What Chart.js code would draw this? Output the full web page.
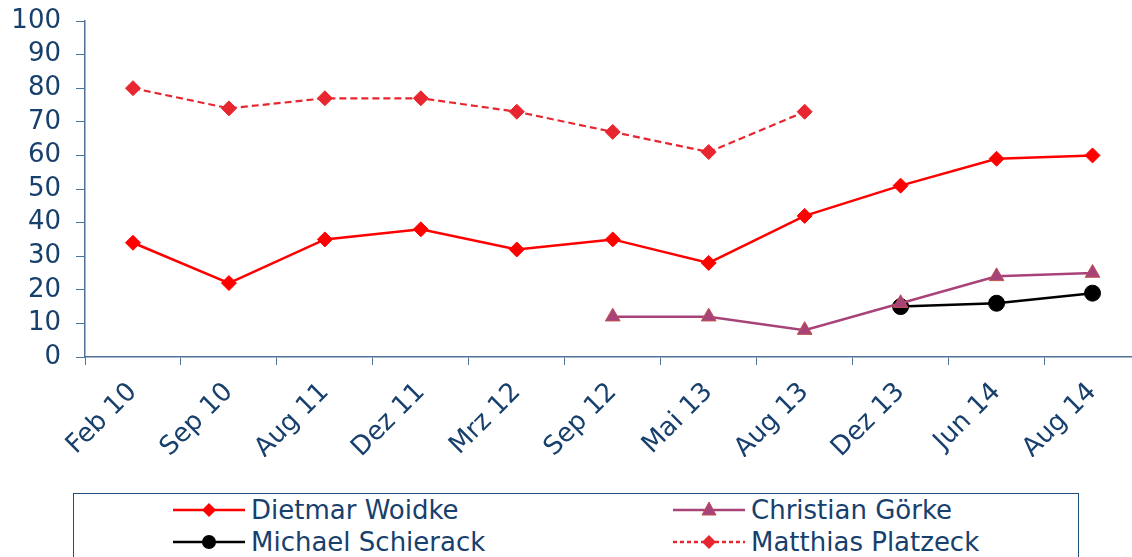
<!DOCTYPE html>
<html>
<head>
<meta charset="utf-8">
<script src="https://cdn.jsdelivr.net/npm/chart.js@4/dist/chart.umd.min.js"></script>
<style>
  html, body { margin: 0; padding: 0; background: #fff; overflow: hidden; }
  #wrap { position: relative; width: 1132px; height: 557px; overflow: hidden; }
  #box { position: absolute; left: 0; top: 0; width: 1150px; height: 457px; }
  #legende {
    position: absolute; left: 73px; top: 493px; width: 1006px; height: 80px;
    border: 1px solid #1F4E79; box-sizing: border-box;
    font-family: "DejaVu Sans", Verdana, sans-serif; font-size: 26px; color: #17406D;
  }
  .item { position: absolute; display: flex; align-items: center; height: 30px; }
  .item svg { margin-right: 6px; }
</style>
</head>
<body>
<div id="wrap">
  <div id="box"><canvas id="graph"></canvas></div>
  <div id="legende"></div>
</div>
<script>
const labels = ["Feb 10", "Sep 10", "Aug 11", "Dez 11", "Mrz 12", "Sep 12", "Mai 13", "Aug 13", "Dez 13", "Jun 14", "Aug 14"];
const woidke = [34, 22, 35, 38, 32, 35, 28, 42, 51, 59, 60];
const goerke = [null, null, null, null, null, 12, 12, 8, 16, 24, 25];
const schierack = [null, null, null, null, null, null, null, null, 15, 16, 19];
const platzeck = [80, 74, 77, 77, 73, 67, 61, 73, null, null, null];

const bleu = "#17406D";
const axe = "#4F7396";

const series = [
  { label: "Dietmar Woidke", data: woidke, borderColor: "#FF0000", backgroundColor: "#FF0000",
    pointStyle: "rectRot", pointRadius: 7.5, borderWidth: 2.5, borderDash: [] },
  { label: "Christian Görke", data: goerke, borderColor: "#A8437A", backgroundColor: "#A8437A",
    pointBorderColor: "#C0504D", pointStyle: "triangle", pointRadius: 8.5, borderWidth: 2.5, borderDash: [] },
  { label: "Michael Schierack", data: schierack, borderColor: "#000000", backgroundColor: "#000000",
    pointStyle: "circle", pointRadius: 8, borderWidth: 2.5, borderDash: [] },
  { label: "Matthias Platzeck", data: platzeck, borderColor: "#E8262F", backgroundColor: "#E8262F",
    pointStyle: "rectRot", pointRadius: 7.5, borderWidth: 2.2, borderDash: [7, 4] }
];

const ctx = document.getElementById("graph").getContext("2d");
new Chart(ctx, {
  type: "line",
  data: {
    labels: labels,
    datasets: series.map(s => Object.assign({ fill: false, tension: 0, spanGaps: false, pointBorderWidth: 1 }, s))
  },
  options: {
    responsive: true,
    maintainAspectRatio: false,
    animation: false,
    layout: { padding: { top: 21, right: 9, left: 0, bottom: 0 } },
    plugins: { legend: { display: false }, tooltip: { enabled: false } },
    scales: {
      x: {
        offset: true,
        grid: { offset: true, drawOnChartArea: false, color: axe, tickLength: 8, tickColor: axe },
        border: { color: axe, width: 1.5 },
        ticks: { color: bleu, font: { family: "DejaVu Sans", size: 26 }, maxRotation: 45, minRotation: 45, autoSkip: false, padding: 12 },
        afterFit: s => { s.height = 100; s.paddingLeft = 0; s.paddingRight = 0; }
      },
      y: {
        min: 0, max: 100,
        grid: { drawOnChartArea: false, color: axe, tickLength: 9, tickColor: axe },
        border: { color: axe, width: 1.5 },
        ticks: { stepSize: 10, autoSkip: false, color: bleu, font: { family: "DejaVu Sans", size: 26 }, padding: 15 },
        afterFit: s => { s.width = 85; s.paddingTop = 0; s.paddingBottom = 0; }
      }
    }
  }
});

// legende en deux colonnes
const pos = [[99, 1], [599, 1], [99, 33], [599, 33]];
const leg = document.getElementById("legende");
series.forEach((s, i) => {
  const d = document.createElement("div");
  d.className = "item";
  d.style.left = pos[i][0] + "px";
  d.style.top = pos[i][1] + "px";
  let m = "";
  if (s.pointStyle === "rectRot") m = `<polygon points="36,9 43,16 36,23 29,16" fill="${s.backgroundColor}"/>`;
  else if (s.pointStyle === "triangle") m = `<polygon points="36,8 43,21 29,21" fill="${s.backgroundColor}" stroke="${s.pointBorderColor}"/>`;
  else m = `<circle cx="36" cy="16" r="7" fill="${s.backgroundColor}"/>`;
  const dash = s.borderDash.length ? `stroke-dasharray="4 3"` : "";
  d.innerHTML = `<svg width="72" height="32"><line x1="0" y1="16" x2="72" y2="16" stroke="${s.borderColor}" stroke-width="2.5" ${dash}/>${m}</svg><span>${s.label}</span>`;
  leg.appendChild(d);
});
</script>
</body>
</html>
